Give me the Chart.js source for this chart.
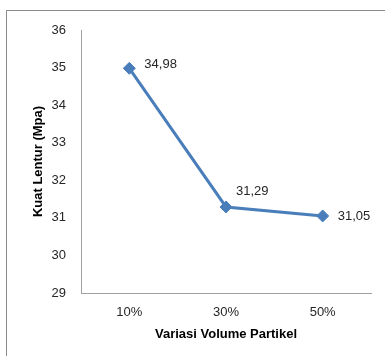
<!DOCTYPE html>
<html>
<head>
<meta charset="utf-8">
<script src="https://cdn.jsdelivr.net/npm/chart.js@4/dist/chart.umd.min.js"></script>
<style>
  html, body { margin: 0; padding: 0; background: #fff; overflow: hidden; }
  #frame { position: absolute; left: 6px; top: 10px; width: 400px; height: 400px;
           border-left: 1px solid #8c8c8c; border-top: 1px solid #8c8c8c; }
  #chart { position: absolute; left: 0; top: 0; }
</style>
</head>
<body>
<div id="frame"></div>
<canvas id="chart" width="385" height="356"></canvas>
<script>
// data
const categories = ["10%", "30%", "50%"];
const kuatLentur = [34.98, 31.29, 31.05];
const yTicks = [29, 30, 31, 32, 33, 34, 35, 36];

const FONT = "'Liberation Sans', Arial, sans-serif";
const LINE_BLUE = "#4a7ebb";

// value labels next to each point (Excel style, comma decimal)
const valueLabels = {
  id: "valueLabels",
  afterDatasetsDraw(chart) {
    const ctx = chart.ctx;
    const pts = chart.getDatasetMeta(0).data;
    const offs = [[15, -4], [10, -16], [15, 0]];
    ctx.save();
    ctx.font = "13px " + FONT;
    ctx.fillStyle = "#262626";
    ctx.textAlign = "left";
    ctx.textBaseline = "middle";
    pts.forEach((p, i) => {
      const txt = kuatLentur[i].toFixed(2).replace(".", ",");
      ctx.fillText(txt, p.x + offs[i][0], p.y + offs[i][1]);
    });
    ctx.restore();
  }
};

new Chart(document.getElementById("chart"), {
  type: "line",
  data: {
    labels: categories,
    datasets: [{
      data: kuatLentur,
      borderColor: LINE_BLUE,
      backgroundColor: LINE_BLUE,
      borderWidth: 3,
      pointStyle: "rectRot",
      pointRadius: 6,
      pointBorderWidth: 1,
      tension: 0
    }]
  },
  options: {
    responsive: false,
    animation: false,
    layout: { padding: { top: 30, right: 14, left: 0, bottom: 0 } },
    plugins: { legend: { display: false }, tooltip: { enabled: false } },
    scales: {
      x: {
        offset: true,
        grid: { display: true, color: "transparent", drawOnChartArea: false, drawTicks: false },
        border: { display: true, color: "#a0a0a0", width: 1 },
        ticks: { padding: 12, color: "#262626", font: { family: FONT, size: 13 }, maxRotation: 0 },
        title: {
          display: true, text: "Variasi Volume Partikel", color: "#000",
          font: { family: FONT, size: 13, weight: "bold" },
          padding: { top: 0, bottom: 14 }
        },
        afterFit(s) { s.height = 63; }
      },
      y: {
        min: 29, max: 36,
        afterBuildTicks(s) { s.ticks = yTicks.map(v => ({ value: v })); },
        grid: { display: true, color: "transparent", drawOnChartArea: false, drawTicks: false },
        border: { display: true, color: "#a0a0a0", width: 1 },
        ticks: { padding: 15, color: "#262626", font: { family: FONT, size: 13 } },
        title: {
          display: true, text: "Kuat Lentur (Mpa)", color: "#000",
          font: { family: FONT, size: 13, weight: "bold" },
          padding: { top: 31, bottom: 0 }
        },
        afterFit(s) { s.width = 81; }
      }
    }
  },
  plugins: [valueLabels]
});
</script>
</body>
</html>
